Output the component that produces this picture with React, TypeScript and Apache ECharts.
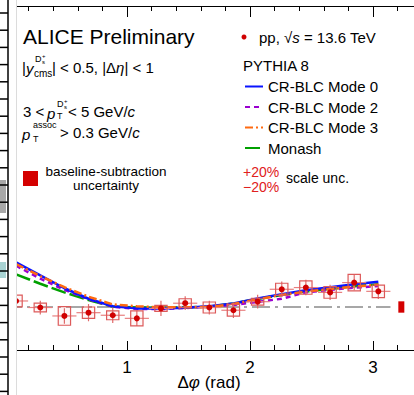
import React, { useEffect, useRef } from "react";
import * as echarts from "echarts";

// ---------- data ----------
const binCenters = [0.098, 0.295, 0.491, 0.687, 0.884, 1.080, 1.276, 1.473, 1.669, 1.865, 2.062, 2.258, 2.454, 2.651, 2.847, 3.043];
const dataY = [0.035, -0.003, -0.052, -0.033, -0.048, -0.066, -0.008, 0.022, -0.003, -0.019, 0.031, 0.103, 0.113, 0.085, 0.142, 0.091];
const statErr = [0.04, 0.04, 0.045, 0.05, 0.045, 0.045, 0.045, 0.04, 0.04, 0.045, 0.04, 0.045, 0.045, 0.045, 0.045, 0.045];
const sysErr = [0.034, 0.025, 0.054, 0.033, 0.026, 0.044, 0.017, 0.026, 0.032, 0.034, 0.02, 0.035, 0.039, 0.034, 0.048, 0.036];

const mode0 = [0.26, 0.184, 0.109, 0.048, 0.004, -0.008, -0.008, -0.005, 0.004, 0.02, 0.05, 0.074, 0.097, 0.115, 0.132, 0.147];
const mode2 = [0.24, 0.165, 0.1, 0.045, 0.002, -0.012, -0.012, -0.006, 0.002, 0.012, 0.03, 0.048, 0.085, 0.1, 0.112, 0.122];
const mode3 = [0.25, 0.18, 0.115, 0.06, 0.015, 0.004, -0.002, -0.002, 0.0, 0.018, 0.045, 0.07, 0.09, 0.105, 0.118, 0.13];
const monash = [0.19, 0.135, 0.085, 0.04, 0.003, -0.003, -0.004, -0.003, 0.002, 0.02, 0.047, 0.07, 0.09, 0.105, 0.12, 0.132];

const baselineRange = [0, Math.PI];
const baselineUnc = [3.23, 0.033];

const xMajorTicks = [1, 2, 3];
const xTickLabels = ["1", "2", "3"];
const xMinorTicks = [0.2, 0.4, 0.6, 0.8, 1.2, 1.4, 1.6, 1.8, 2.2, 2.4, 2.6, 2.8, 3.2];
const yMajorTicks = [0, 0.5, 1, 1.5];
const yMinorTicks = [-0.2, -0.1, 0.1, 0.2, 0.3, 0.4, 0.6, 0.7, 0.8, 0.9, 1.1, 1.2, 1.3, 1.4, 1.6, 1.7];

const modelNames = ["CR-BLC Mode 0", "CR-BLC Mode 2", "CR-BLC Mode 3", "Monash"];

// ---------- chart ----------
const FONT = "Liberation Sans, Arial, Helvetica, sans-serif";
const BIN_HALF = Math.PI / 32;
const BOX_HALF = 0.05;

function pairs(ys: number[]) {
  return ys.map((y, i) => [binCenters[i], y]);
}

function txt(x: number, y: number, text: string, size: number, extra: any = {}) {
  return {
    type: "text",
    x,
    y,
    z: 120,
    style: {
      text,
      fontSize: size,
      fontFamily: FONT,
      fill: "#000",
      verticalAlign: "middle",
      align: "left",
      ...extra,
    },
  };
}

function rtxt(x: number, y: number, text: string, size: number, extra: any = {}) {
  return txt(x, y, text, size, {
    rich: {
      n: { fontSize: size, fontFamily: FONT, fill: "#000" },
      i: { fontSize: size, fontFamily: FONT, fill: "#000", fontStyle: "italic" },
    },
    ...extra,
  });
}

export default function App() {
  const ref = useRef<HTMLDivElement>(null);

  useEffect(() => {
    if (!ref.current) return;
    const chart = echarts.init(ref.current, null, { renderer: "svg" });

    const pointsData = binCenters.map((x, i) => [x, dataY[i], statErr[i], sysErr[i]]);

    const xCommon = {
      type: "value",
      min: 0,
      max: 3.333,
      splitLine: { show: false },
    };

    const stripTicks: any[] = [];
    for (let y = 13; y < 395; y += 17.2) {
      stripTicks.push({
        type: "line",
        z: 110,
        shape: { x1: 0, y1: y, x2: 8, y2: y },
        style: { stroke: "#000", lineWidth: 1.5 },
      });
    }

    const option: any = {
      animation: false,
      backgroundColor: "#fff",
      grid: { left: 4, right: 0, top: 6, bottom: 45, containLabel: false, outerBoundsMode: "none" },
      xAxis: [
        {
          ...xCommon,
          position: "bottom",
          axisLine: { show: true, onZero: false, lineStyle: { color: "#000", width: 1 } },
          axisTick: { show: true, inside: true, length: 9, customValues: xMajorTicks, lineStyle: { color: "#000" } },
          axisLabel: {
            show: true,
            customValues: xMajorTicks,
            formatter: (v: number) => xTickLabels[xMajorTicks.indexOf(Math.round(v))] ?? "",
            fontSize: 17,
            fontFamily: FONT,
            color: "#000",
            margin: 9,
          },
          name: "{d|Δ}{p|φ}{d| (rad)}",
          nameLocation: "middle",
          nameGap: 24,
          nameMoveOverlap: false,
          nameTextStyle: {
            rich: {
              d: { fontSize: 17, fontFamily: FONT, color: "#000" },
              p: { fontSize: 17, fontFamily: FONT, color: "#000", fontStyle: "italic" },
            },
          },
        },
        {
          ...xCommon,
          position: "bottom",
          axisLine: { show: false, onZero: false },
          axisTick: { show: true, inside: true, length: 5, customValues: xMinorTicks, lineStyle: { color: "#000" } },
          axisLabel: { show: false },
        },
        {
          ...xCommon,
          position: "top",
          axisLine: { show: true, onZero: false, lineStyle: { color: "#000", width: 1 } },
          axisTick: { show: true, inside: true, length: 11, customValues: xMajorTicks, lineStyle: { color: "#000" } },
          axisLabel: { show: false },
        },
        {
          ...xCommon,
          position: "top",
          axisLine: { show: false, onZero: false },
          axisTick: { show: true, inside: true, length: 5, customValues: xMinorTicks, lineStyle: { color: "#000" } },
          axisLabel: { show: false },
        },
      ],
      yAxis: [
        {
          type: "value",
          min: -0.25,
          max: 1.75,
          position: "right",
          splitLine: { show: false },
          axisLine: { show: false },
          axisTick: { show: true, inside: true, length: 12, customValues: yMajorTicks, lineStyle: { color: "#444" } },
          axisLabel: { show: false },
        },
        {
          type: "value",
          min: -0.25,
          max: 1.75,
          position: "right",
          splitLine: { show: false },
          axisLine: { show: false },
          axisTick: { show: true, inside: true, length: 5, customValues: yMinorTicks, lineStyle: { color: "#444" } },
          axisLabel: { show: false },
        },
      ],
      legend: {
        show: true,
        orient: "vertical",
        left: 244,
        top: 79,
        padding: 0,
        itemWidth: 18,
        itemHeight: 14,
        itemGap: 5.5,
        selectedMode: false,
        data: modelNames,
        itemStyle: { color: "rgba(0,0,0,0)", borderColor: "rgba(0,0,0,0)", borderWidth: 0 },
        textStyle: { fontSize: 15, fontFamily: FONT, color: "#000", lineHeight: 15 },
      },
      series: [
        {
          name: "baseline",
          type: "line",
          data: baselineRange.map((x) => [x, 0]),
          symbol: "none",
          silent: true,
          lineStyle: { color: "#8a8a8a", width: 1.5, type: [18, 5, 3, 5] },
          z: 1,
        },
        {
          name: "Monash",
          type: "line",
          data: pairs(monash),
          symbol: "none",
          lineStyle: { color: "#00a000", width: 2.5, type: [15, 4] },
          itemStyle: { color: "#00a000" },
          z: 2,
        },
        {
          name: "CR-BLC Mode 2",
          type: "line",
          data: pairs(mode2),
          symbol: "none",
          lineStyle: { color: "#9a00d0", width: 2.5, type: [5, 4] },
          itemStyle: { color: "#9a00d0" },
          z: 3,
        },
        {
          name: "CR-BLC Mode 0",
          type: "line",
          data: pairs(mode0),
          symbol: "none",
          lineStyle: { color: "#0a14ff", width: 2.5, type: "solid" },
          itemStyle: { color: "#0a14ff" },
          z: 4,
        },
        {
          name: "CR-BLC Mode 3",
          type: "line",
          data: pairs(mode3),
          symbol: "none",
          lineStyle: { color: "#ff6a10", width: 2.5, type: [8, 3, 2, 3] },
          itemStyle: { color: "#ff6a10" },
          z: 5,
        },
        {
          name: "pp data",
          type: "custom",
          z: 10,
          data: pointsData,
          renderItem: (params: any, api: any) => {
            const x = api.value(0);
            const y = api.value(1);
            const st = api.value(2);
            const sy = api.value(3);
            const c = api.coord([x, y]);
            const bl = api.coord([x - BOX_HALF, y - sy]);
            const tr = api.coord([x + BOX_HALF, y + sy]);
            const l = api.coord([x - BIN_HALF, y]);
            const r = api.coord([x + BIN_HALF, y]);
            const t = api.coord([x, y + st]);
            const b = api.coord([x, y - st]);
            return {
              type: "group",
              children: [
                { type: "line", shape: { x1: l[0], y1: l[1], x2: r[0], y2: r[1] }, style: { stroke: "#e88080", lineWidth: 1.2 } },
                { type: "line", shape: { x1: t[0], y1: t[1], x2: b[0], y2: b[1] }, style: { stroke: "#e06a6a", lineWidth: 1.2 } },
                {
                  type: "rect",
                  shape: { x: bl[0], y: tr[1], width: tr[0] - bl[0], height: bl[1] - tr[1] },
                  style: { fill: "rgba(230,120,120,0.06)", stroke: "#dd5a5a", lineWidth: 1.2 },
                },
                { type: "circle", shape: { cx: c[0], cy: c[1], r: 3 }, style: { fill: "#d00000" } },
              ],
            };
          },
        },
        {
          name: "baseline unc",
          type: "custom",
          z: 10,
          data: [baselineUnc],
          renderItem: (params: any, api: any) => {
            const x = api.value(0);
            const u = api.value(1);
            const tl = api.coord([x, u]);
            const br = api.coord([x, -u]);
            return {
              type: "rect",
              shape: { x: tl[0] - 3, y: tl[1], width: 6, height: br[1] - tl[1] },
              style: { fill: "#d40000" },
            };
          },
        },
      ],
      graphic: [
        // left crop strip
        { type: "rect", z: 100, shape: { x: 0, y: 0, width: 16, height: 395 }, style: { fill: "#fff" } },
        { type: "rect", z: 105, shape: { x: 0, y: 180, width: 6, height: 33 }, style: { fill: "#a8a8a8" } },
        { type: "rect", z: 105, shape: { x: 0, y: 262, width: 6, height: 16 }, style: { fill: "#a9d3d3" } },
        { type: "line", z: 110, shape: { x1: 8, y1: 0, x2: 8, y2: 395 }, style: { stroke: "#000", lineWidth: 1.5 } },
        ...stripTicks,
        { type: "line", z: 110, shape: { x1: 16.5, y1: 0, x2: 16.5, y2: 395 }, style: { stroke: "#dcdcdc", lineWidth: 1 } },

        // left texts
        txt(23, 36, "ALICE Preliminary", 21),
        txt(22, 67, "|", 15),
        txt(26, 68, "y", 15, { fontStyle: "italic" }),
        txt(35, 59, "D", 9),
        txt(42, 56, "+", 6),
        txt(42, 62, "s", 6),
        txt(34, 73, "cms", 10),
        rtxt(52, 67, "{n|| < 0.5, |Δ}{i|η}{n|| < 1}", 15),

        txt(23, 111, "3 < ", 15),
        txt(47, 113, "p", 15, { fontStyle: "italic" }),
        txt(57, 104, "D", 9),
        txt(64, 101, "+", 6),
        txt(64, 107, "s", 6),
        txt(57, 116, "T", 9),
        rtxt(68, 111, "{n|< 5 GeV/}{i|c}", 15),

        txt(22, 134, "p", 15, { fontStyle: "italic" }),
        txt(33, 125, "assoc", 9),
        txt(33, 139, "T", 9),
        rtxt(60, 132, "{n|> 0.3 GeV/}{i|c}", 15),

        { type: "rect", z: 120, shape: { x: 23, y: 171, width: 15, height: 15 }, style: { fill: "#d40000" } },
        txt(106, 178.5, "baseline-subtraction\nuncertainty", 13.5, { align: "center", lineHeight: 14 }),

        // right legend texts
        { type: "circle", z: 120, shape: { cx: 244, cy: 37, r: 2.5 }, style: { fill: "#d00000" } },
        rtxt(259, 37, "{n|pp, √}{i|s}{n| = 13.6 TeV}", 15),
        txt(243, 65, "PYTHIA 8", 15),
        txt(243, 172, "+20%", 14, { fill: "#e02020" }),
        txt(243, 187, "−20%", 14, { fill: "#e02020" }),
        txt(286, 178, "scale unc.", 14),
      ],
    };

    chart.setOption(option);
    return () => chart.dispose();
  }, []);

  return (
    <div
      ref={ref}
      style={{ position: "fixed", left: 0, top: 0, width: 414, height: 395, background: "#fff" }}
    />
  );
}
